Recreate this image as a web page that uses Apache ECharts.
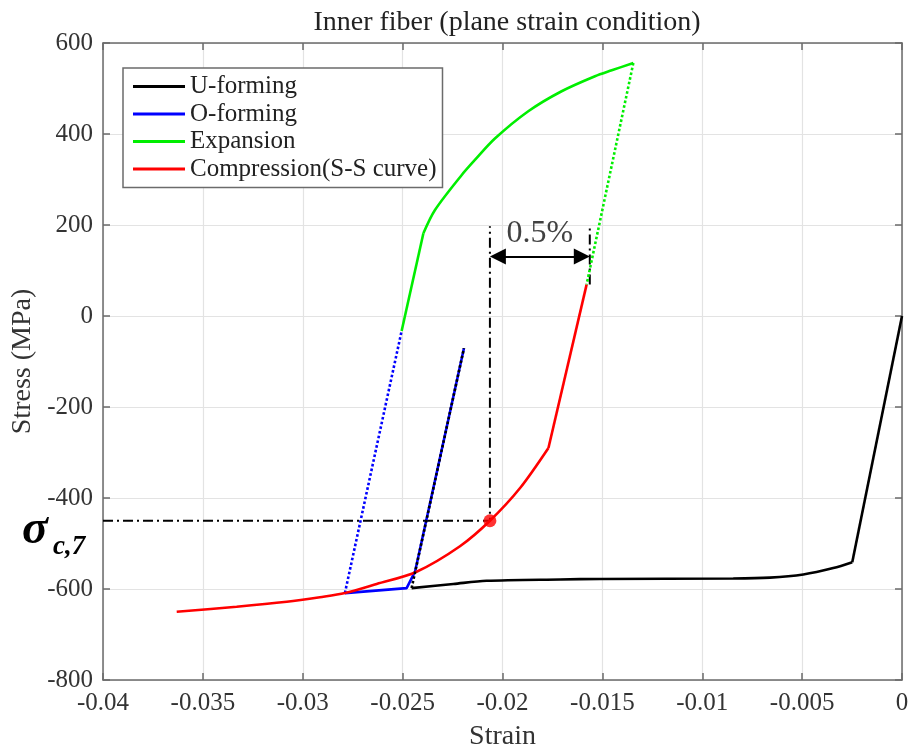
<!DOCTYPE html>
<html>
<head>
<meta charset="utf-8">
<title>Inner fiber (plane strain condition)</title>
<script src="https://cdn.jsdelivr.net/npm/echarts@6/dist/echarts.min.js"></script>
<style>
  html, body { margin: 0; padding: 0; background: #fff; }
  #chart { width: 914px; height: 756px; }
</style>
</head>
<body>
<div id="chart"></div>
<script>
// Stress–strain history of the inner fiber, [strain, stress (MPa)]
// Elastic branches are straight; plastic branches are drawn as smooth curves.
const uFormingElastic = [[0, 0], [-0.00249, -541]];
const uFormingPlastic = [
  [-0.00249, -541], [-0.00344, -554], [-0.00494, -568], [-0.00661, -575],
  [-0.00845, -577], [-0.01512, -578], [-0.01712, -579], [-0.0208, -582],
  [-0.02246, -589], [-0.02455, -598]
];
const uUnloading = [[-0.02455, -598], [-0.02193, -71]];
const oForming = [
  [-0.02193, -71], [-0.02438, -562], [-0.0248, -598], [-0.02789, -609]
];
const oUnloading = [[-0.02789, -609], [-0.02505, -33]];
const expansionElastic = [[-0.02505, -33], [-0.02396, 182]];
const expansionPlastic = [
  [-0.02396, 182], [-0.02338, 233], [-0.02204, 310], [-0.02138, 343],
  [-0.02038, 390], [-0.01871, 450], [-0.01704, 494], [-0.01537, 527],
  [-0.01453, 540], [-0.01345, 556]
];
const expUnloading = [[-0.01345, 556], [-0.01579, 69]];
const compressionElastic = [[-0.01579, 69], [-0.0177, -290]];
const compressionPlastic = [
  [-0.0177, -290], [-0.01912, -378], [-0.02063, -450], [-0.02213, -506],
  [-0.0243, -562], [-0.0263, -589], [-0.02789, -609], [-0.02914, -618],
  [-0.0308, -628], [-0.03331, -639], [-0.03631, -650]
];

// 0.5 % offset construction
const sigmaPoint = [-0.02063, -450];
const offsetStrain = 0.005;
const bracketTop = 197;
const offsetLineBottom = 69;
const arrowStress = 131;
const offsetLabel = '0.5%';

const seriesNames = ['U-forming', 'O-forming', 'Expansion', 'Compression(S-S curve)'];
const xTicks = { min: -0.04, max: 0, step: 0.005 };
const yTicks = { min: -800, max: 600, step: 200 };

const FONT = '"Liberation Serif", "Times New Roman", serif';
const AXIS_COLOR = '#6b6b6b';
const TEXT_COLOR = '#333';
const GREEN = '#00ee00';

const chart = echarts.init(document.getElementById('chart'), null, { renderer: 'canvas' });

function solid(name, data, color, z, smooth) {
  return {
    name, type: 'line', data, symbol: 'none', z: z || 3,
    smooth: smooth ? 0.3 : false,
    lineStyle: { color, width: 2.6 }, itemStyle: { color }
  };
}
function dotted(data, color, z) {
  return {
    type: 'line', data, symbol: 'none', z: z || 3, silent: true,
    lineStyle: { color, width: 2.6, type: [2.6, 2.2], cap: 'butt' }
  };
}
const dashDot = { color: '#000', width: 2, type: [10, 4, 2, 4] };

const sharedX = {
  type: 'value', min: xTicks.min, max: xTicks.max, interval: xTicks.step,
  axisLine: { show: true, onZero: false, lineStyle: { color: AXIS_COLOR, width: 1.5 } },
  axisTick: { show: true, inside: true, length: 7, lineStyle: { color: AXIS_COLOR, width: 1.5 } },
  splitLine: { show: false }
};
const sharedY = {
  type: 'value', min: yTicks.min, max: yTicks.max, interval: yTicks.step,
  axisLine: { show: true, onZero: false, lineStyle: { color: AXIS_COLOR, width: 1.5 } },
  axisTick: { show: true, inside: true, length: 7, lineStyle: { color: AXIS_COLOR, width: 1.5 } },
  splitLine: { show: false }
};

// arrow heads sit with their tips on the bracket lines
const arrowInset = 0.0004;

const option = {
  animation: false,
  backgroundColor: '#fff',
  title: {
    text: 'Inner fiber (plane strain condition)',
    left: 502, top: 4, textAlign: 'center',
    textStyle: { fontFamily: FONT, fontSize: 28, fontWeight: 'normal', color: '#222' }
  },
  grid: { left: 103, right: 12, top: 43, bottom: 76, containLabel: false },
  legend: {
    data: seriesNames,
    orient: 'vertical', left: 123, top: 68,
    padding: [6, 6, 6, 10], itemGap: 2.5, itemWidth: 52, itemHeight: 3,
    icon: 'rect',
    backgroundColor: '#fff', borderColor: '#6b6b6b', borderWidth: 1.5,
    textStyle: { fontFamily: FONT, fontSize: 25, color: '#222', lineHeight: 25 },
    selectedMode: false
  },
  xAxis: [
    Object.assign({}, sharedX, {
      position: 'bottom',
      name: 'Strain', nameLocation: 'middle', nameGap: 43,
      nameTextStyle: { fontFamily: FONT, fontSize: 28, color: TEXT_COLOR },
      axisLabel: {
        fontFamily: FONT, fontSize: 25, color: TEXT_COLOR, margin: 11,
        formatter: v => String(+v.toFixed(3))
      },
      splitLine: { show: true, lineStyle: { color: '#e3e3e3', width: 1.2 } }
    }),
    Object.assign({}, sharedX, { position: 'top', axisLabel: { show: false } })
  ],
  yAxis: [
    Object.assign({}, sharedY, {
      position: 'left',
      name: 'Stress (MPa)', nameLocation: 'middle', nameGap: 66, nameRotate: 90,
      nameTextStyle: { fontFamily: FONT, fontSize: 28, color: TEXT_COLOR },
      axisLabel: { fontFamily: FONT, fontSize: 25, color: TEXT_COLOR, margin: 10 },
      splitLine: { show: true, lineStyle: { color: '#e3e3e3', width: 1.2 } }
    }),
    Object.assign({}, sharedY, { position: 'right', axisLabel: { show: false } })
  ],
  series: [
    solid(seriesNames[0], uFormingElastic, '#000', 3, false),
    solid(seriesNames[0], uFormingPlastic, '#000', 3, true),
    solid(seriesNames[1], oForming, '#0000ff', 3, false),
    dotted(oUnloading, '#0000ff', 3),
    solid(seriesNames[2], expansionElastic, GREEN, 3, false),
    solid(seriesNames[2], expansionPlastic, GREEN, 3, true),
    dotted(expUnloading, GREEN, 3),
    solid(seriesNames[3], compressionElastic, '#ff0000', 4, false),
    solid(seriesNames[3], compressionPlastic, '#ff0000', 4, true),
    dotted(uUnloading, '#000', 5),
    // dash-dot construction lines
    {
      type: 'line', symbol: 'none', silent: true, z: 2, lineStyle: dashDot,
      data: [[xTicks.min, sigmaPoint[1]], sigmaPoint, [sigmaPoint[0], bracketTop]]
    },
    {
      type: 'line', symbol: 'none', silent: true, z: 2, lineStyle: dashDot,
      data: [[sigmaPoint[0] + offsetStrain, offsetLineBottom], [sigmaPoint[0] + offsetStrain, bracketTop]]
    },
    // double arrow and its label
    {
      type: 'line', data: [], silent: true, z: 6,
      markLine: {
        silent: true, animation: false,
        symbol: ['triangle', 'triangle'], symbolSize: [16, 16],
        lineStyle: { color: '#000', width: 2, type: 'solid' },
        label: { show: false },
        data: [[
          { coord: [sigmaPoint[0] + arrowInset, arrowStress] },
          { coord: [sigmaPoint[0] + offsetStrain - arrowInset, arrowStress] }
        ]]
      }
    },
    {
      type: 'scatter', silent: true, z: 6, symbolSize: 0,
      data: [[sigmaPoint[0] + offsetStrain / 2, arrowStress]],
      label: {
        show: true, formatter: offsetLabel, position: 'top', distance: 7,
        fontFamily: FONT, fontSize: 32, color: '#111'
      }
    },
    // critical stress point on the compression curve
    {
      type: 'scatter', silent: true, z: 7, symbol: 'circle', symbolSize: 13,
      itemStyle: { color: '#ff0000' }, data: [sigmaPoint]
    }
  ]
};

chart.setOption(option);

// σc,7 label aligned with the critical-stress construction line
const sigmaY = chart.convertToPixel({ yAxisIndex: 0 }, sigmaPoint[1]);
chart.setOption({
  graphic: [
    {
      type: 'text', left: 22, top: sigmaY - 14, silent: true,
      style: { text: 'σ', font: 'italic bold 48px ' + FONT, fill: '#000' }
    },
    {
      type: 'text', left: 53, top: sigmaY + 13, silent: true,
      style: { text: 'c,7', font: 'italic bold 27px ' + FONT, fill: '#000' }
    }
  ]
});
</script>
</body>
</html>
